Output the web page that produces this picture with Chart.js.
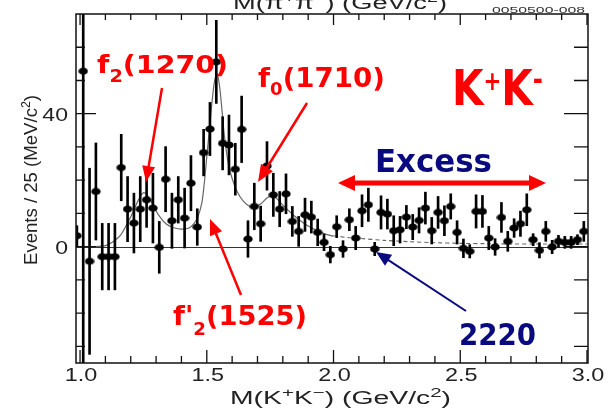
<!DOCTYPE html>
<html><head><meta charset="utf-8">
<script src="https://cdn.jsdelivr.net/npm/chart.js@4"></script>
<style>html,body{margin:0;padding:0;background:#fff}canvas{display:block}</style>
</head><body>
<canvas id="c" width="608" height="409"></canvas>
<script>
// ---- data ----
const massBins = [0.9875,1.0125,1.0375,1.0625,1.0875,1.1125,1.1375,1.1625,1.1875,1.2125,1.2375,1.2625,1.2875,1.3125,1.3375,1.3625,1.3875,1.4125,1.4375,1.4625,1.4875,1.5125,1.5375,1.5625,1.5875,1.6125,1.6375,1.6625,1.6875,1.7125,1.7375,1.7625,1.7875,1.8125,1.8375,1.8625,1.8875,1.9125,1.9375,1.9625,1.9875,2.0125,2.0375,2.0625,2.0875,2.1125,2.1375,2.1625,2.1875,2.2125,2.2375,2.2625,2.2875,2.3125,2.3375,2.3625,2.3875,2.4125,2.4375,2.4625,2.4875,2.5125,2.5375,2.5625,2.5875,2.6125,2.6375,2.6625,2.6875,2.7125,2.7375,2.7625,2.7875,2.8125,2.8375,2.8625,2.8875,2.9125,2.9375,2.9625,2.9875];
const events = [3.3,52.8,-4.4,16.6,-3.0,-3.0,-3.0,23.8,11.3,7.1,11.3,14.1,11.6,-0.2,20.3,7.8,14.1,8.6,19.1,5.9,28.3,35.4,55.6,31.1,30.6,23.3,35.3,2.3,12.1,6.9,24.3,15.6,11.3,15.9,7.6,4.6,9.6,8.9,4.3,1.3,-2.4,6.0,-0.7,8.1,2.6,10.8,12.6,-0.7,10.3,9.8,4.8,5.1,8.9,5.9,7.9,11.6,4.8,10.3,7.8,12.1,4.3,-0.5,-1.4,10.6,10.6,2.6,-0.1,8.8,1.6,5.6,6.9,11.1,2.1,-1.1,4.6,-0.1,1.6,1.3,1.3,2.1,4.6];
const errors = [3,90,28,14.6,10,10,10,10,9.8,9,9.8,8.3,10.5,7.8,9.8,8.3,7,9,8.3,5.5,7,8,12.5,8,9,7.8,10,5.5,7,5.3,7.3,6.5,5.3,6,4.5,4.5,5,4.8,4,2.5,2.5,3.3,2.5,3.3,3.5,4.8,5,2,5,4.5,4.5,4,3.5,3.8,3.8,4.8,4,4.8,4.5,3.8,3.5,2.8,2,5,4.8,3.5,2.5,4.5,3,2.8,3.8,4.8,1.8,2.3,3,2,1.8,1.8,1.8,1.5,3];
const fitMass  = [1.06,1.10,1.13,1.16,1.19,1.21,1.23,1.25,1.265,1.285,1.31,1.34,1.37,1.40,1.43,1.45,1.465,1.48,1.49,1.50,1.51,1.52,1.53,1.54,1.55,1.56,1.57,1.585,1.60,1.62,1.645,1.67,1.69,1.715,1.74,1.76,1.78,1.80,1.84,1.87,1.90,1.93,1.96,2.00];
const fitValue = [0,0.3,1.5,3.5,7.5,10.6,14,16.2,15.5,13,9.5,6.8,5.7,5.3,5.6,7,9,13,19,27,35,43,49.5,52,48.5,41,33,25,20.5,16.5,13.6,12.1,11.9,13,14.8,15.2,14.2,12.5,9.6,7.8,6.2,5,4,3.1];
const bkgMass  = [2.00,2.05,2.10,2.20,2.30,2.40,2.50,2.60,2.70,2.80,2.90,3.00];
const bkgValue = [3.3,2.8,2.5,1.9,1.5,1.2,1.0,0.9,0.8,0.8,0.8,0.8];
const xMajorTicks = [1.0,1.5,2.0,2.5,3.0];
const xTickLabels = ['1.0','1.5','2.0','2.5','3.0'];
const xMinorTicks = [1.1,1.2,1.3,1.4,1.6,1.7,1.8,1.9,2.1,2.2,2.3,2.4,2.6,2.7,2.8,2.9];
const yMajorTicks = [0,40];
const yTickLabels = ['0','40'];
const yMinorTicks = [-30,-20,-10,10,20,30,50,60];

// ---- marker ----
const dot = document.createElement('canvas'); dot.width = 10; dot.height = 8;
{ const g = dot.getContext('2d'); g.fillStyle = '#000'; g.beginPath(); g.ellipse(5,4,4.7,3.6,0,0,Math.PI*2); g.fill(); }

const AX = '"Liberation Sans", Arial, sans-serif';
const AN = '"Comic Sans MS", "DejaVu Sans", sans-serif';

function rich(ctx, segs, x, y, opt){
  ctx.save(); ctx.fillStyle = opt.color; ctx.textBaseline = 'alphabetic';
  let tot = 0;
  const ms = segs.map(s => { ctx.font = (s[3]||opt.weight||'normal') + ' ' + s[1] + 'px ' + opt.family; const m = ctx.measureText(s[0]).width; tot += m; return m; });
  const sc = opt.w ? opt.w / tot : (opt.sx || 1);
  const W = tot * sc;
  ctx.translate(x, y);
  if (opt.rot) ctx.rotate(opt.rot);
  const off = opt.align === 'center' ? -W/2 : opt.align === 'right' ? -W : 0;
  ctx.translate(off, 0);
  ctx.scale(sc, 1);
  let cx = 0;
  segs.forEach((s,i) => { ctx.font = (s[3]||opt.weight||'normal') + ' ' + s[1] + 'px ' + opt.family; ctx.fillText(s[0], cx, s[2]); cx += ms[i]; });
  ctx.restore();
}
function arrow(ctx, x1, y1, x2, y2, color, lw, hl, hw, both){
  ctx.save(); ctx.strokeStyle = color; ctx.fillStyle = color; ctx.lineWidth = lw; ctx.lineCap = 'butt';
  const ang = Math.atan2(y2-y1, x2-x1);
  const head = (tx, ty, a) => {
    ctx.beginPath(); ctx.moveTo(tx, ty);
    ctx.lineTo(tx - hl*Math.cos(a) + hw*Math.sin(a), ty - hl*Math.sin(a) - hw*Math.cos(a));
    ctx.lineTo(tx - hl*Math.cos(a) - hw*Math.sin(a), ty - hl*Math.sin(a) + hw*Math.cos(a));
    ctx.closePath(); ctx.fill();
  };
  const sx = both ? x1 + (hl-2)*Math.cos(ang) : x1, sy = both ? y1 + (hl-2)*Math.sin(ang) : y1;
  ctx.beginPath(); ctx.moveTo(sx, sy); ctx.lineTo(x2 - (hl-2)*Math.cos(ang), y2 - (hl-2)*Math.sin(ang)); ctx.stroke();
  head(x2, y2, ang);
  if (both) head(x1, y1, ang + Math.PI);
  ctx.restore();
}

const deco = {
  id: 'deco',
  beforeDatasetsDraw(chart){
    const {ctx, chartArea: a, scales: {y}} = chart;
    const y0 = Math.round(y.getPixelForValue(0)) + 0.5;
    ctx.save(); ctx.strokeStyle = '#333'; ctx.lineWidth = 1.2;
    ctx.beginPath(); ctx.moveTo(a.left, y0); ctx.lineTo(a.right, y0); ctx.stroke(); ctx.restore();
  },
  afterDraw(chart){
    const {ctx, chartArea: a, scales: {x, y}} = chart;
    ctx.save();
    // frame
    ctx.strokeStyle = '#111'; ctx.lineWidth = 1.5;
    ctx.strokeRect(a.left, a.top, a.right - a.left, a.bottom - a.top);
    // ticks
    ctx.lineWidth = 1.3; ctx.beginPath();
    const tx = (v, L, Lt) => { const p = x.getPixelForValue(v); ctx.moveTo(p, a.bottom); ctx.lineTo(p, a.bottom - L); ctx.moveTo(p, a.top); ctx.lineTo(p, a.top + Lt); };
    xMajorTicks.forEach(v => tx(v, 13, 11));
    xMinorTicks.forEach(v => tx(v, 7, 6));
    const ty = (v, L, R) => { const p = y.getPixelForValue(v); ctx.moveTo(a.left, p); ctx.lineTo(a.left + L, p); ctx.moveTo(a.right, p); ctx.lineTo(a.right - R, p); };
    yMajorTicks.forEach(v => ty(v, 20, 24));
    yMinorTicks.forEach(v => ty(v, 9, 14));
    ctx.stroke();
    ctx.restore();

    // tick labels
    xMajorTicks.forEach((v,i) => rich(ctx, [[xTickLabels[i], 18, 0]], x.getPixelForValue(v) + 1, 381, {color:'#222', family:AX, sx:1.3, align:'center'}));
    yMajorTicks.forEach((v,i) => rich(ctx, [[yTickLabels[i], 18, 0]], 68, y.getPixelForValue(v) + 7.5, {color:'#222', family:AX, sx:1.28, align:'right'}));
    // axis titles
    rich(ctx, [['M(K',18,0],['+',13,-7],['K',18,0],['\u2212',13,-7],[') (GeV/c',18,0],['2',13,-7],[')',18,0]], 230, 404, {color:'#222', family:AX, w:221});
    rich(ctx, [['Events / 25 (MeV/c',18,0],['2',12,-7],[')',18,0]], 37, 180, {color:'#222', family:AX, w:170, rot:-Math.PI/2, align:'center'});
    // cropped title of the panel above and the figure id
    rich(ctx, [['M(\u03c0',18,0],['+',13,-7],['\u03c0',18,0],['\u2212',13,-7],[') (GeV/c',18,0],['2',13,-7],[')',18,0]], 233, 9, {color:'#222', family:AX, w:214});
    rich(ctx, [['0050500-008',9,0]], 492, 12.5, {color:'#333', family:AX, w:93});

    // annotations
    const RED = '#ff0000', NAVY = '#0a0a80';
    rich(ctx, [['f',25,0],['2',17,9],['(1270)',25,0]], 97, 73, {color:RED, family:AN, weight:'bold', w:131});
    rich(ctx, [['f',26,0],['0',17,8],['(1710)',26,0]], 258, 87, {color:RED, family:AN, weight:'bold', w:127});
    rich(ctx, [["f'",27,0],['2',18,10],['(1525)',27,0]], 173, 325, {color:RED, family:AN, weight:'bold', w:134});
    rich(ctx, [['K',50,0],['+',26,-15],['K',50,0],['-',30,-15]], 452, 105, {color:RED, family:AN, weight:'bold', w:91});
    rich(ctx, [['Excess',32,0]], 375, 172, {color:NAVY, family:AN, weight:'bold', w:117});
    rich(ctx, [['2220',31,0]], 459, 345, {color:NAVY, family:AN, weight:'bold', w:77});

    arrow(ctx, 162, 88, 146, 182, RED, 2.5, 16, 6.5, false);
    arrow(ctx, 307, 103, 258, 182, RED, 2.5, 17, 7, false);
    arrow(ctx, 241, 295, 210, 219, RED, 2.5, 16, 6.5, false);
    arrow(ctx, 338, 183, 546, 183, RED, 5, 17, 8, true);
    arrow(ctx, 466, 311, 376, 252, NAVY, 2, 15, 6.5, false);
  }
};

new Chart(document.getElementById('c'), {
  type: 'scatter',
  data: { datasets: [
    { type:'scatter', data: massBins.map((m,i)=>({x:m, y:events[i]})), pointStyle: dot, pointRadius: 4, order: 0 },
    { type:'bar', data: massBins.map((m,i)=>({x:m, y:[events[i]-errors[i], events[i]+errors[i]]})), backgroundColor:'#000', borderWidth:0, barThickness:2, order: 1 },
    { type:'line', data: fitMass.map((m,i)=>({x:m, y:fitValue[i]})), borderColor:'#666', borderWidth:1.2, pointRadius:0, tension:0.35, fill:false, order: 2 },
    { type:'line', data: bkgMass.map((m,i)=>({x:m, y:bkgValue[i]})), borderColor:'#666', borderWidth:1.1, borderDash:[4,3], pointRadius:0, tension:0.3, fill:false, order: 3 }
  ]},
  options: {
    responsive: false, animation: false, events: [],
    layout: { padding: { left: 76, right: 20, top: 14, bottom: 46 } },
    plugins: { legend: { display: false }, tooltip: { enabled: false } },
    scales: {
      x: { type:'linear', min: 0.984, max: 3.004, display: false, offset: false },
      y: { type:'linear', min: -35, max: 70, display: false }
    }
  },
  plugins: [deco]
});
</script>
</body></html>
